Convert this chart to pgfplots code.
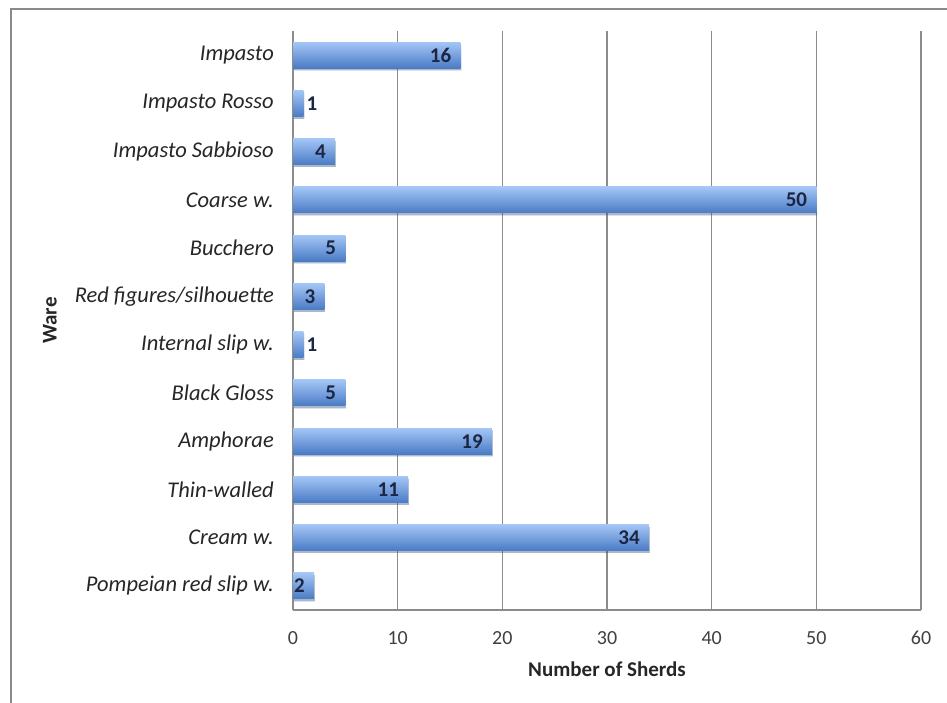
\documentclass[border=0pt]{standalone}
\usepackage{pgfplots}
\pgfplotsset{compat=1.18}
\usepackage{fontspec}
\setmainfont{Carlito}
\usetikzlibrary{shadows}
\definecolor{gridc}{HTML}{8C8C8C}
\definecolor{frame}{HTML}{8A8A8A}
\definecolor{barTop}{HTML}{A4C6F6}
\definecolor{barMid}{HTML}{7AA6E6}
\definecolor{barBot}{HTML}{4A7BC5}
\definecolor{lbl}{HTML}{1C2642}
\definecolor{txt}{HTML}{262626}
\definecolor{tck}{HTML}{404040}
\pgfplotsset{
  wbar/.style={xbar, bar width=26bp, bar shift=0pt, draw=none,
    top color=barTop, middle color=barMid, bottom color=barBot,
    drop shadow={shadow xshift=0.8bp, shadow yshift=-2.2bp, opacity=0.22, fill=black},
    point meta=x, nodes near coords},
  lin/.style={every node near coord/.append style={anchor=east, xshift=-9bp, inner sep=0pt, text=lbl, font=\fontsize{21bp}{24bp}\selectfont\bfseries}},
  lout/.style={every node near coord/.append style={anchor=west, xshift=3bp, inner sep=0pt, text=lbl, font=\fontsize{21bp}{24bp}\selectfont\bfseries}},
}
\begin{document}
\begin{tikzpicture}
\useasboundingbox (0,0) rectangle (947bp,-703bp);
\fill[white] (0,0) rectangle (947bp,-703bp);
\draw[frame, line width=1.5bp] (11bp,-703bp) -- (11bp,-9bp) -- (947bp,-9bp);
\begin{axis}[
  at={(293bp,-610bp)}, anchor=south west,
  scale only axis, width=628bp, height=579bp,
  xmin=0, xmax=60, xtick={0,10,...,60},
  ymin=-0.5, ymax=11.5, ytick={0,...,11},
  yticklabels={Pompeian red slip w., Cream w., Thin-walled, Amphorae, Black Gloss, Internal slip w., Red figures/silhouette, Bucchero, Coarse w., Impasto Sabbioso, Impasto Rosso, Impasto},
  axis x line*=bottom, axis y line*=left,
  axis line style={gridc, line width=1.2bp},
  xmajorgrids, grid style={gridc, line width=1.2bp},
  major tick length=0pt,
  /pgf/number format/assume math mode=true,
  tick label style={font=\fontsize{20bp}{24bp}\selectfont},
  xticklabel style={inner sep=0pt, anchor=north, yshift=-21bp, text=tck},
  yticklabel style={inner sep=0pt, anchor=east, xshift=-19bp, text=txt, font=\fontsize{22.5bp}{26bp}\selectfont\itshape},
  xlabel={Number of Sherds},
  ylabel={Ware},
  every axis x label/.style={at={(axis description cs:0.5,0)}, anchor=north, inner sep=0pt, yshift=-52bp, font=\fontsize{21bp}{24bp}\selectfont\bfseries, text=txt},
  every axis y label/.style={at={(axis description cs:-0.387,0.5)}, rotate=90, anchor=center, inner sep=0pt, font=\fontsize{21bp}{24bp}\selectfont\bfseries, text=txt},
  clip=false,
]
\addplot[wbar, lin]  coordinates {(16,11)};
\addplot[wbar, lout] coordinates {(1,10)};
\addplot[wbar, lin]  coordinates {(4,9)};
\addplot[wbar, lin]  coordinates {(50,8)};
\addplot[wbar, lin]  coordinates {(5,7)};
\addplot[wbar, lin]  coordinates {(3,6)};
\addplot[wbar, lout] coordinates {(1,5)};
\addplot[wbar, lin]  coordinates {(5,4)};
\addplot[wbar, lin]  coordinates {(19,3)};
\addplot[wbar, lin]  coordinates {(11,2)};
\addplot[wbar, lin]  coordinates {(34,1)};
\addplot[wbar, lin]  coordinates {(2,0)};
\end{axis}
\end{tikzpicture}
\end{document}
